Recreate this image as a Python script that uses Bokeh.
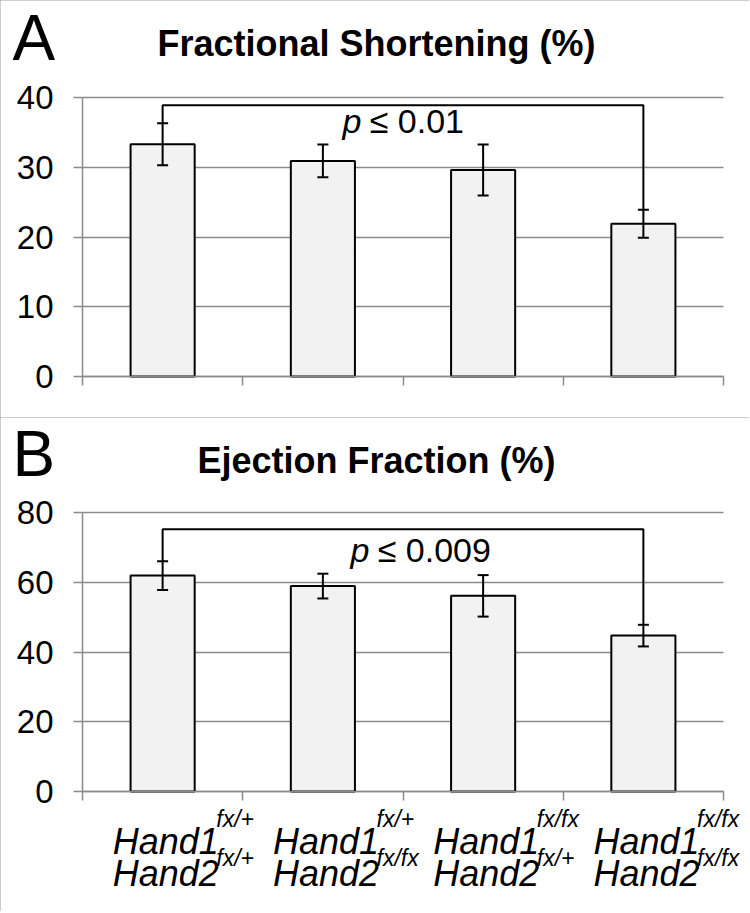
from bokeh.plotting import figure
from bokeh.models import (ColumnDataSource, Whisker, TeeHead, Label, FixedTicker,
                          Range1d, LinearAxis, Grid)
from bokeh.layouts import column
from bokeh.embed import file_html
from bokeh.resources import INLINE

# ---- data ----
hand1_sup = ["fx/+", "fx/+", "fx/fx", "fx/fx"]
hand2_sup = ["fx/+", "fx/fx", "fx/+", "fx/fx"]

fs_mean = [33.3, 30.9, 29.6, 21.9]
fs_sem = [3.0, 2.35, 3.65, 2.0]
fs_bracket = 38.9
fs_p = "≤ 0.01"
fs_ticks = [0, 10, 20, 30, 40]

ef_mean = [61.9, 58.9, 56.1, 44.7]
ef_sem = [4.15, 3.55, 5.95, 3.1]
ef_bracket = 75.2
ef_p = "≤ 0.009"
ef_ticks = [0, 20, 40, 60, 80]

# ---- layout constants (pixels) ----
FONT = "Liberation Sans"
GRAY = "#8a8a8a"
W = 749
LEFT, RIGHT = 82, 26        # plot area left / right edges inside the panel
PLOT_H = 279                # height of the value axis
N = len(fs_mean)
UNIT = (W - LEFT - RIGHT) / N


def panel(height, top_px, ticks):
    ymax = ticks[-1]
    ppu = PLOT_H / ymax
    zero_px = top_px + PLOT_H
    p = figure(width=W, height=height,
               x_range=Range1d(-LEFT / UNIT, N + RIGHT / UNIT),
               y_range=Range1d(-(height - zero_px) / ppu, ymax + top_px / ppu),
               x_axis_type=None, y_axis_type=None, min_border=0,
               output_backend="svg", toolbar_location=None)
    p.outline_line_color = None
    p.background_fill_color = "white"
    p.border_fill_color = "white"
    p.styles = {"outline": "3px solid #9c9c9c", "outline-offset": "-3px"}

    px2x = lambda px: (px - LEFT) / UNIT
    px2y = lambda py: (zero_px - py) / ppu

    yax = LinearAxis(fixed_location=0, bounds=(0, ymax), ticker=FixedTicker(ticks=ticks),
                     axis_line_color=GRAY, axis_line_width=1.5,
                     major_tick_line_color=GRAY, major_tick_line_width=1.5,
                     major_tick_out=9, major_tick_in=0, minor_tick_line_color=None,
                     major_label_text_font=FONT, major_label_text_font_size="33px",
                     major_label_text_color="black", major_label_standoff=20)
    p.add_layout(yax, "left")
    xax = LinearAxis(fixed_location=0, bounds=(0, N),
                     ticker=FixedTicker(ticks=list(range(N + 1))),
                     axis_line_color=GRAY, axis_line_width=1.5,
                     major_tick_line_color=GRAY, major_tick_line_width=1.5,
                     major_tick_out=9, major_tick_in=0, minor_tick_line_color=None,
                     major_label_text_font_size="0px", major_label_text_alpha=0)
    p.add_layout(xax, "below")

    try:
        g = Grid(dimension=1, ticker=FixedTicker(ticks=ticks), bounds=(0, ymax),
                 cross_bounds=(0, N), grid_line_color=GRAY, grid_line_width=1.5)
        p.add_layout(g)
    except AttributeError:
        p.segment(x0=[0] * len(ticks), x1=[N] * len(ticks), y0=ticks, y1=ticks,
                  line_color=GRAY, line_width=1.5)
    return p, px2x, px2y


def bars(p, mean, sem, bracket, ptext, p_x, p_y):
    xs = [i + 0.5 for i in range(N)]
    src = ColumnDataSource(dict(
        x=xs, top=mean,
        upper=[m + s for m, s in zip(mean, sem)],
        lower=[m - s for m, s in zip(mean, sem)],
    ))
    p.vbar(x="x", top="top", bottom=0, width=0.4, source=src,
           fill_color="#f2f2f2", line_color="black", line_width=2)
    p.add_layout(Whisker(base="x", upper="upper", lower="lower", source=src,
                         line_color="black", line_width=2, level="overlay",
                         upper_head=TeeHead(size=11, line_color="black", line_width=2),
                         lower_head=TeeHead(size=11, line_color="black", line_width=2)))
    up0 = mean[0] + sem[0]
    up3 = mean[-1] + sem[-1]
    p.line(x=[xs[0], xs[0], xs[-1], xs[-1]], y=[up0, bracket, bracket, up3],
           line_color="black", line_width=2)
    p.add_layout(Label(x=p_x, y=p_y, text="p", text_font=FONT,
                       text_font_size="34px", text_font_style="italic",
                       text_color="black", text_align="left",
                       text_baseline="alphabetic"))
    p.add_layout(Label(x=p_x + 0.17, y=p_y, text=ptext, text_font=FONT,
                       text_font_size="34px", text_align="left",
                       text_color="black", text_baseline="alphabetic"))
    return xs


def header(p, px2x, px2y, letter, title, letter_mid, title_mid):
    p.add_layout(Label(x=px2x(12), y=px2y(letter_mid), text=letter, text_font=FONT,
                       text_font_size="64px", text_color="black", text_align="left",
                       text_baseline="alphabetic"))
    p.add_layout(Label(x=px2x(376), y=px2y(title_mid), text=title, text_font=FONT,
                       text_font_size="36px", text_font_style="bold",
                       text_color="black", text_align="center",
                       text_baseline="alphabetic"))


# Panel A
pA, axA, ayA = panel(417, 97, fs_ticks)
header(pA, axA, ayA, "A", "Fractional Shortening (%)", 37, 43)
bars(pA, fs_mean, fs_sem, fs_bracket, fs_p, axA(342), ayA(120))

# Panel B
pB, axB, ayB = panel(494, 95, ef_ticks)
header(pB, axB, ayB, "B", "Ejection Fraction (%)", 36, 43)
xsB = bars(pB, ef_mean, ef_sem, ef_bracket, ef_p, axB(350), ayB(132))

for i, xc in enumerate(xsB):
    for name, sup, yb, ys in (("Hand1", hand1_sup[i], 424, 401),
                              ("Hand2", hand2_sup[i], 456, 440)):
        pB.add_layout(Label(x=xc + 0.02, y=ayB(yb), text=name, text_font=FONT,
                            text_font_size="36px", text_font_style="italic",
                            text_color="black", text_align="center",
                            text_baseline="alphabetic"))
        pB.add_layout(Label(x=xc + 0.335, y=ayB(ys), text=sup, text_font=FONT,
                            text_font_size="23px", text_font_style="italic",
                            text_color="black", text_align="left",
                            text_baseline="alphabetic"))

layout = column(pA, pB, spacing=0)
open("out.html", "w").write(file_html(layout, INLINE))
